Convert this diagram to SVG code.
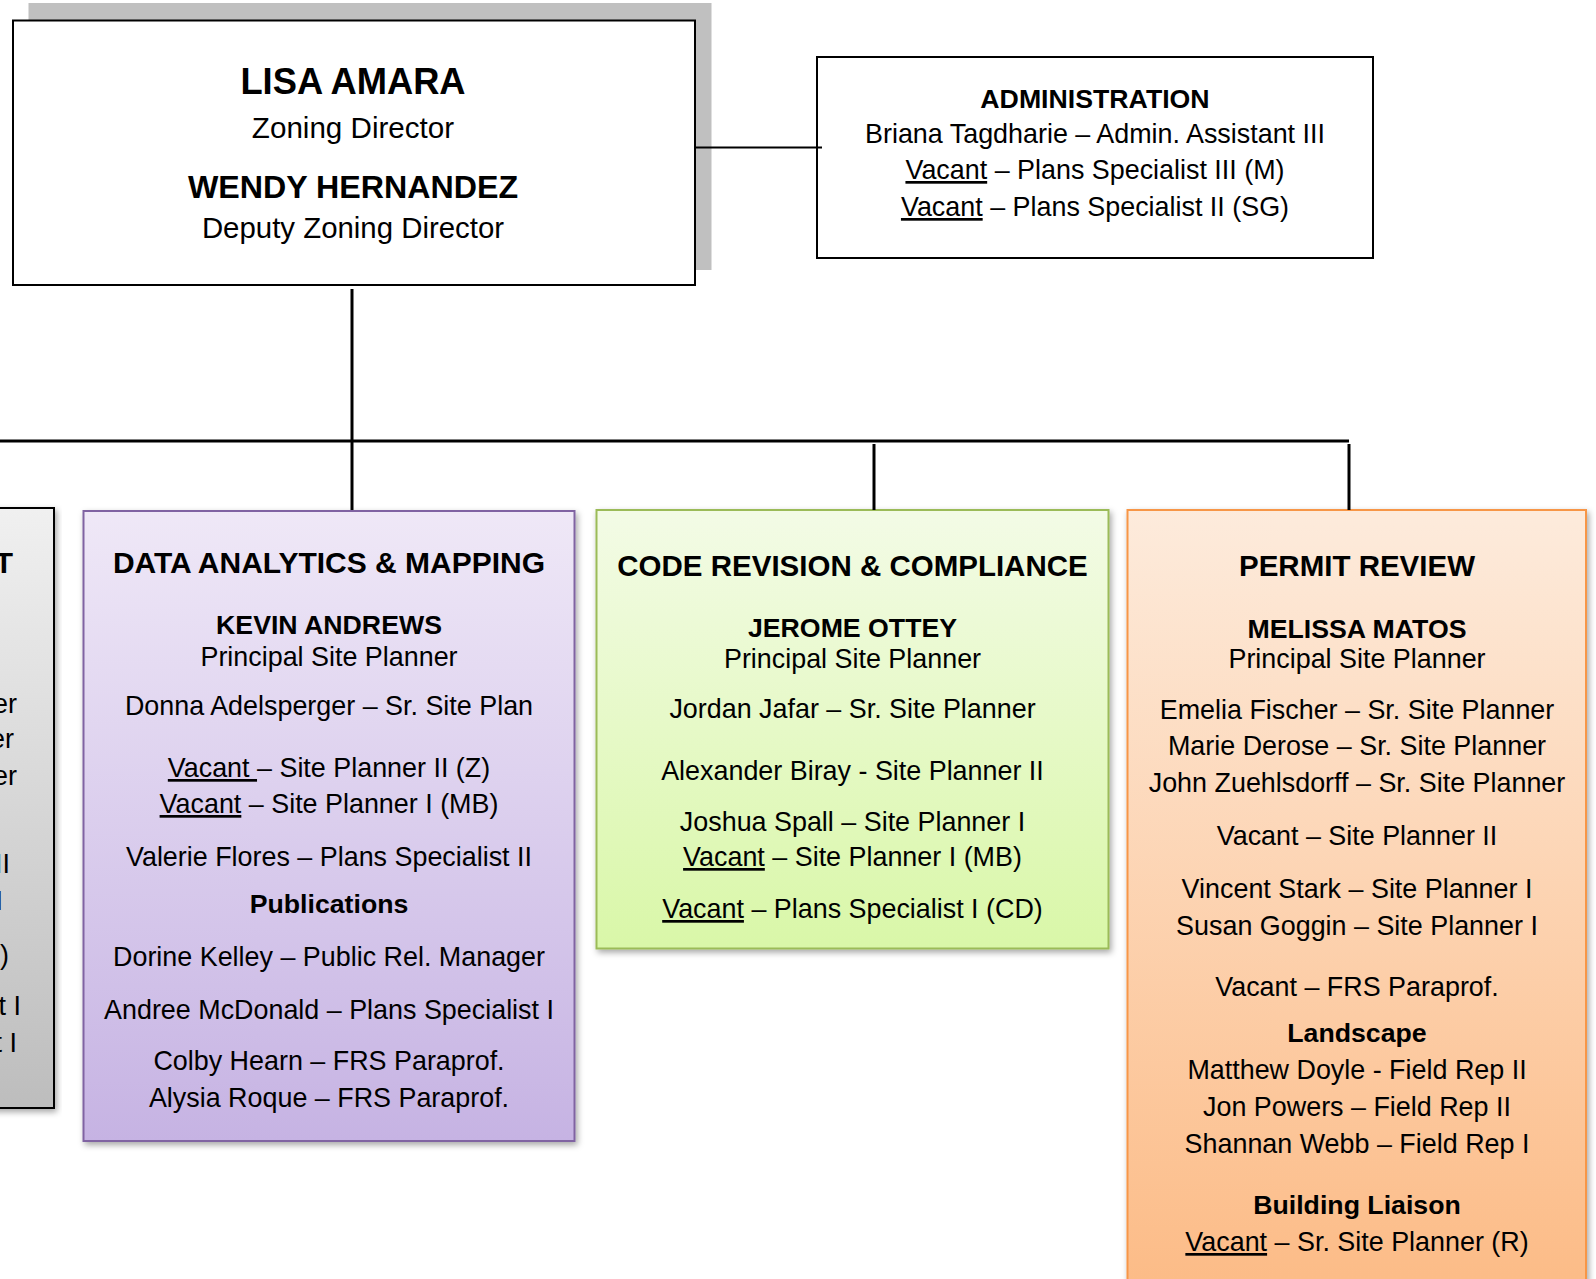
<svg xmlns="http://www.w3.org/2000/svg" width="1596" height="1279" viewBox="0 0 1596 1279">
<defs>
<style>
text { font-family: "Liberation Sans", Arial, Helvetica, sans-serif; fill: #000; }
.t { font-size: 29.5px; font-weight: bold; text-anchor: middle; }
.n { font-size: 26.7px; font-weight: bold; text-anchor: middle; }
.b { font-size: 26.9px; text-anchor: middle; }
.e { font-size: 26.9px; text-anchor: end; }
.u { text-decoration: underline; }
.conn { stroke: #000; stroke-width: 3; fill: none; }
</style>
<linearGradient id="gGray" x1="0" y1="0" x2="0" y2="1">
<stop offset="0" stop-color="#F0F0F0"/>
<stop offset="1" stop-color="#BDBDBD"/>
</linearGradient>
<linearGradient id="gPurple" x1="0" y1="0" x2="0" y2="1">
<stop offset="0" stop-color="#EFE8F7"/>
<stop offset="1" stop-color="#C6B3E3"/>
</linearGradient>
<linearGradient id="gGreen" x1="0" y1="0" x2="0" y2="1">
<stop offset="0" stop-color="#F3FBE6"/>
<stop offset="1" stop-color="#D9F7A8"/>
</linearGradient>
<linearGradient id="gOrange" x1="0" y1="0" x2="0" y2="1">
<stop offset="0" stop-color="#FDEBDC"/>
<stop offset="1" stop-color="#FCBA84"/>
</linearGradient>
<filter id="sh" x="-5%" y="-5%" width="115%" height="115%">
<feDropShadow dx="2" dy="3" stdDeviation="3" flood-color="#000" flood-opacity="0.35"/>
</filter>
</defs>

<g id="director">
<rect x="28.5" y="3" width="683" height="267" fill="#C0C0C0"/>
<rect x="13" y="20.5" width="682" height="264.5" fill="#FFFFFF" stroke="#000" stroke-width="2"/>
<text x="353" y="93.6" font-size="36.3" font-weight="bold" text-anchor="middle">LISA AMARA</text>
<text x="353" y="137.5" font-size="29.6" text-anchor="middle">Zoning Director</text>
<text x="353" y="197.5" font-size="32.2" font-weight="bold" text-anchor="middle">WENDY HERNANDEZ</text>
<text x="353" y="238" font-size="29.4" text-anchor="middle">Deputy Zoning Director</text>
</g>

<g id="administration">
<rect x="817" y="57" width="556" height="201" fill="#FFFFFF" stroke="#000" stroke-width="2"/>
<text class="n" x="1095" y="108">ADMINISTRATION</text>
<text class="b" x="1095" y="142.5">Briana Tagdharie – Admin. Assistant III</text>
<text class="b" x="1095" y="179"><tspan class="u">Vacant</tspan> – Plans Specialist III (M)</text>
<text class="b" x="1095" y="216"><tspan class="u">Vacant</tspan> – Plans Specialist II (SG)</text>
</g>

<g id="left-section">
<rect x="-20" y="508" width="74" height="600" fill="url(#gGray)" stroke="#000" stroke-width="2" filter="url(#sh)"/>
<text x="13" y="573" font-size="29.9" font-weight="bold" text-anchor="end">T</text>
<text class="e" x="17" y="712.5">er</text>
<text class="e" x="14" y="748">er</text>
<text class="e" x="17" y="785">er</text>
<text class="e" x="10" y="873">II</text>
<text class="e" x="3" y="910">I</text>
<text class="e" x="9" y="964">)</text>
<text class="e" x="21" y="1015">t I</text>
<text class="e" x="17" y="1051.5">t I</text>
</g>

<g id="data-analytics">
<rect x="83.5" y="511" width="491" height="630" fill="url(#gPurple)" stroke="#8064A2" stroke-width="2" filter="url(#sh)"/>
<text class="t" x="329" y="573" style="font-size:30px">DATA ANALYTICS &amp; MAPPING</text>
<text class="n" x="329" y="634">KEVIN ANDREWS</text>
<text class="b" x="329" y="666">Principal Site Planner</text>
<text class="b" x="329" y="714.5">Donna Adelsperger – Sr. Site Plan</text>
<text class="b" x="329" y="777"><tspan class="u">Vacant </tspan>– Site Planner II (Z)</text>
<text class="b" x="329" y="813"><tspan class="u">Vacant</tspan> – Site Planner I (MB)</text>
<text class="b" x="329" y="866">Valerie Flores – Plans Specialist II</text>
<text class="n" x="329" y="913">Publications</text>
<text class="b" x="329" y="966">Dorine Kelley – Public Rel. Manager</text>
<text class="b" x="329" y="1019">Andree McDonald – Plans Specialist I</text>
<text class="b" x="329" y="1070">Colby Hearn – FRS Paraprof.</text>
<text class="b" x="329" y="1106.5">Alysia Roque – FRS Paraprof.</text>
</g>

<g id="code-revision">
<rect x="596.5" y="510" width="512" height="438.5" fill="url(#gGreen)" stroke="#9BBB59" stroke-width="2" filter="url(#sh)"/>
<text class="t" x="852.5" y="576">CODE REVISION &amp; COMPLIANCE</text>
<text class="n" x="852.5" y="637">JEROME OTTEY</text>
<text class="b" x="852.5" y="668">Principal Site Planner</text>
<text class="b" x="852.5" y="717.6">Jordan Jafar – Sr. Site Planner</text>
<text class="b" x="852.5" y="780">Alexander Biray - Site Planner II</text>
<text class="b" x="852.5" y="830.6">Joshua Spall – Site Planner I</text>
<text class="b" x="852.5" y="866"><tspan class="u">Vacant</tspan> – Site Planner I (MB)</text>
<text class="b" x="852.5" y="918"><tspan class="u">Vacant</tspan> – Plans Specialist I (CD)</text>
</g>

<g id="permit-review">
<rect x="1127.5" y="510" width="458.5" height="800" fill="url(#gOrange)" stroke="#F79646" stroke-width="2" filter="url(#sh)"/>
<text class="t" x="1357" y="576">PERMIT REVIEW</text>
<text class="n" x="1357" y="638">MELISSA MATOS</text>
<text class="b" x="1357" y="668">Principal Site Planner</text>
<text class="b" x="1357" y="718.6">Emelia Fischer – Sr. Site Planner</text>
<text class="b" x="1357" y="755">Marie Derose – Sr. Site Planner</text>
<text class="b" x="1357" y="792">John Zuehlsdorff – Sr. Site Planner</text>
<text class="b" x="1357" y="845">Vacant – Site Planner II</text>
<text class="b" x="1357" y="898">Vincent Stark – Site Planner I</text>
<text class="b" x="1357" y="934.5">Susan Goggin – Site Planner I</text>
<text class="b" x="1357" y="995.5">Vacant – FRS Paraprof.</text>
<text class="n" x="1357" y="1042">Landscape</text>
<text class="b" x="1357" y="1079">Matthew Doyle - Field Rep II</text>
<text class="b" x="1357" y="1115.6">Jon Powers – Field Rep II</text>
<text class="b" x="1357" y="1153">Shannan Webb – Field Rep I</text>
<text class="n" x="1357" y="1214">Building Liaison</text>
<text class="b" x="1357" y="1251"><tspan class="u">Vacant</tspan> – Sr. Site Planner (R)</text>
</g>

<g id="connectors">
<line x1="695" y1="147.5" x2="822" y2="147.5" stroke="#000" stroke-width="2"/>
<line class="conn" x1="352" y1="289" x2="352" y2="510"/>
<line class="conn" x1="0" y1="441" x2="1349" y2="441"/>
<line class="conn" x1="874" y1="444" x2="874" y2="510"/>
<line class="conn" x1="1349" y1="444" x2="1349" y2="510"/>
</g>
</svg>
